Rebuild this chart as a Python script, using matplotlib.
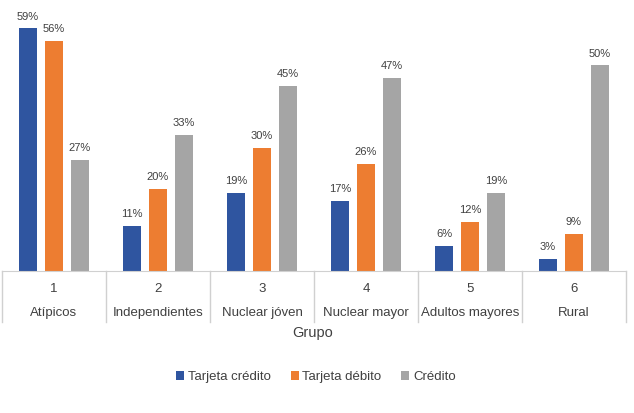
import numpy as np
import matplotlib.pyplot as plt
from matplotlib.lines import Line2D

plt.rcParams['font.family'] = ['Liberation Sans', 'DejaVu Sans']

# datos
numeros = ['1', '2', '3', '4', '5', '6']
grupos = ['Atípicos', 'Independientes', 'Nuclear jóven', 'Nuclear mayor',
          'Adultos mayores', 'Rural']
tarjeta_credito = [59, 11, 19, 17, 6, 3]
tarjeta_debito = [56, 20, 30, 26, 12, 9]
credito = [27, 33, 45, 47, 19, 50]

series = ['Tarjeta crédito', 'Tarjeta débito', 'Crédito']
colores = ['#2F55A0', '#ED7D31', '#A5A5A5']

fig = plt.figure(figsize=(6.34, 4.13), dpi=100)
ax = fig.add_axes([2 / 634, 1 - 271 / 413, 624 / 634, 261 / 413])

x = np.arange(len(grupos))
ancho = 0.165
sep = 0.25
for i, (vals, nombre, c) in enumerate(zip([tarjeta_credito, tarjeta_debito, credito], series, colores)):
    pos = x + (i - 1) * sep
    ax.bar(pos, vals, ancho, color=c, label=nombre)
    for p, v in zip(pos, vals):
        ax.annotate('%d%%' % v, (p, v), xytext=(0, 5), textcoords='offset points',
                    ha='center', va='bottom', fontsize=8, color='#404040')

ax.set_xlim(-0.5, len(grupos) - 0.5)
ax.set_ylim(0, 63.5)
ax.set_yticks([])
ax.set_xticks([])
for s in ['top', 'left', 'right']:
    ax.spines[s].set_visible(False)
ax.spines['bottom'].set_color('#D0D0D0')

# tabla de categorias bajo el eje
trans = ax.get_xaxis_transform()
y_fondo = -(322 - 271) / 261
for b in np.arange(-0.5, len(grupos), 1):
    ax.add_line(Line2D([b, b], [0, y_fondo], transform=trans, color='#D0D0D0',
                       lw=1, clip_on=False))
for xi, n, g in zip(x, numeros, grupos):
    ax.text(xi, -(289 - 271) / 261, n, transform=trans, ha='center', va='center',
            fontsize=9.5, color='#404040')
    ax.text(xi, -(313 - 271) / 261, g, transform=trans, ha='center', va='center',
            fontsize=9.5, color='#404040')

fig.text(313 / 634, 1 - 333 / 413, 'Grupo', ha='center', va='center',
         fontsize=10.5, color='#404040')

fig.legend(loc='center', bbox_to_anchor=(316 / 634, 1 - 377 / 413), ncol=3,
           frameon=False, fontsize=9.5, handlelength=0.6, handleheight=0.6,
           handletextpad=0.3, columnspacing=1.5, labelcolor='#404040')

fig.savefig('out.png', dpi=100)
